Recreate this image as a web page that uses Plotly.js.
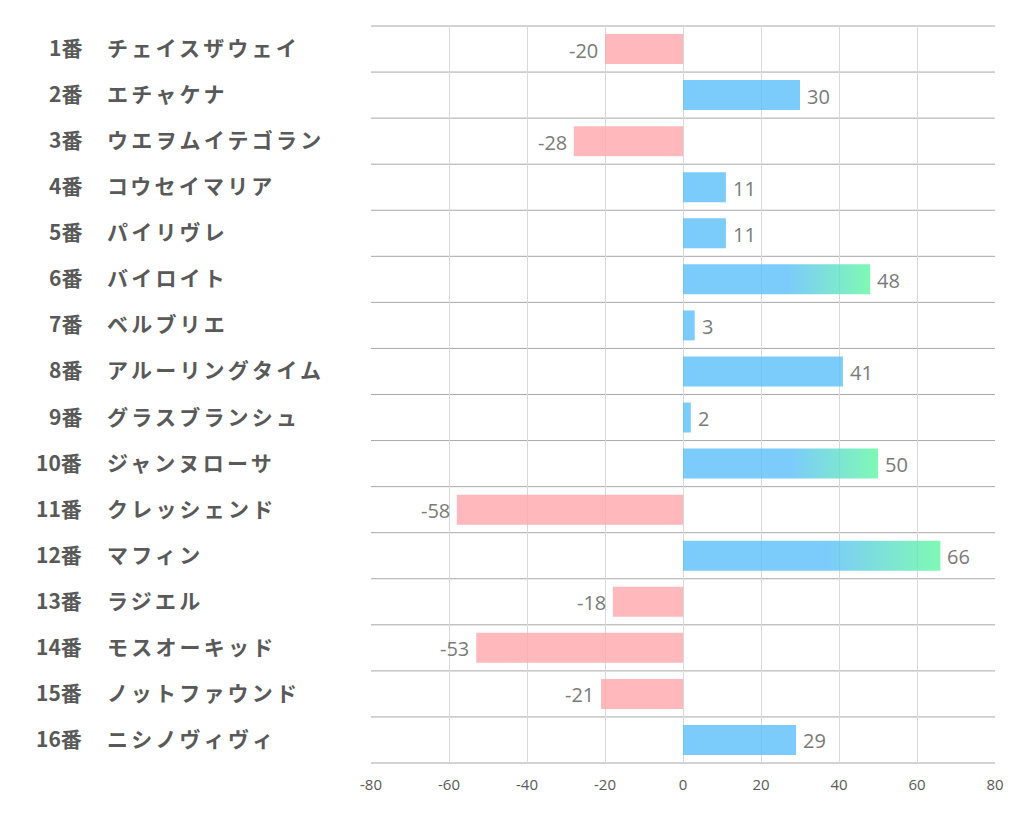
<!DOCTYPE html>
<html>
<head>
<meta charset="utf-8">
<script src="https://cdn.plot.ly/plotly-3.0.1.min.js"></script>
<style>
  html, body { margin: 0; padding: 0; background: #fff; }
  #chart { width: 1022px; height: 834px; }
  .name-label { letter-spacing: 3.2px; }
</style>
</head>
<body>
<div id="chart"></div>
<script>
// ---- data ----
const horseNumbers = ['1番','2番','3番','4番','5番','6番','7番','8番','9番','10番','11番','12番','13番','14番','15番','16番'];
const horseNames = ['チェイスザウェイ','エチャケナ','ウエヲムイテゴラン','コウセイマリア','パイリヴレ','バイロイト','ベルブリエ','アルーリングタイム','グラスブランシュ','ジャンヌローサ','クレッシェンド','マフィン','ラジエル','モスオーキッド','ノットファウンド','ニシノヴィヴィ'];
const scores = [-20, 30, -28, 11, 11, 48, 3, 41, 2, 50, -58, 66, -18, -53, -21, 29];
const xTickVals = [-80, -60, -40, -20, 0, 20, 40, 60, 80];

// ---- styles ----
const BLUE = 'rgba(90,190,250,0.8)';
const PINK = 'rgba(255,166,171,0.8)';
const GRAD_FROM = 'rgb(90,190,250)';
const GRAD_TO = 'rgb(95,247,161)';
const top3 = scores.slice().sort((a, b) => b - a).slice(0, 3);
const highlight = scores.map(v => top3.includes(v));
const colors = scores.map(v => v < 0 ? PINK : BLUE);

const trace = {
  type: 'bar',
  orientation: 'h',
  x: scores,
  y: horseNumbers,
  marker: { color: colors, line: { width: 0 } },
  hoverinfo: 'none'
};

const labelFont = { family: 'Noto Sans CJK JP', size: 21, color: '#595959', weight: 'bold' };
const annotations = [];
horseNumbers.forEach((n, i) => {
  annotations.push({
    xref: 'paper', yref: 'y', x: -0.4599, y: n, yshift: 2,
    text: n, showarrow: false, xanchor: 'right', yanchor: 'middle', align: 'right',
    font: labelFont
  });
  annotations.push({
    xref: 'paper', yref: 'y', x: -0.4263, y: n, yshift: 2,
    text: horseNames[i], showarrow: false, xanchor: 'left', yanchor: 'middle', align: 'left',
    font: labelFont
  });
  const v = scores[i];
  annotations.push({
    xref: 'x', yref: 'y', x: v, y: n,
    text: String(v), showarrow: false,
    xanchor: v < 0 ? 'right' : 'left', yanchor: 'middle',
    xshift: v < 0 ? -5 : 5, yshift: -1,
    font: { family: 'Open Sans', size: 20, color: '#7A7A7A' }
  });
});

const shapes = [];
for (let k = 0; k <= horseNumbers.length; k++) {
  shapes.push({
    type: 'line', xref: 'paper', yref: 'paper',
    x0: 0, x1: 1, y0: k / horseNumbers.length, y1: k / horseNumbers.length,
    line: { color: '#A8A8A8', width: 1 }, layer: 'below'
  });
}

const layout = {
  width: 1022, height: 834,
  margin: { l: 371, r: 27, t: 26, b: 71 },
  paper_bgcolor: '#ffffff', plot_bgcolor: '#ffffff',
  showlegend: false,
  bargap: 0.35,
  xaxis: {
    range: [-80, 80], tickvals: xTickVals, ticktext: xTickVals.map(String),
    showgrid: true, gridcolor: '#D9D9D9', gridwidth: 1,
    zeroline: false, showline: false, ticks: '',
    ticklabelstandoff: 11,
    tickfont: { family: 'Open Sans', size: 15, color: '#595959' },
    fixedrange: true
  },
  yaxis: {
    type: 'category', categoryorder: 'array', categoryarray: horseNumbers,
    autorange: 'reversed', showticklabels: false, showgrid: false,
    zeroline: false, showline: false, ticks: '', fixedrange: true
  },
  annotations: annotations,
  shapes: shapes
};

Plotly.newPlot('chart', [trace], layout, { displayModeBar: false, staticPlot: true }).then(gd => {
  // letter spacing for names
  gd.querySelectorAll('.annotation text').forEach(t => {
    if (horseNames.includes(t.textContent)) t.classList.add('name-label');
  });
  // gradient for highlighted bars
  const svg = gd.querySelector('svg.main-svg');
  const defs = svg.querySelector('defs');
  const ns = 'http://www.w3.org/2000/svg';
  const grad = document.createElementNS(ns, 'linearGradient');
  grad.setAttribute('id', 'hlGrad');
  grad.setAttribute('x1', '0'); grad.setAttribute('x2', '1');
  grad.setAttribute('y1', '0'); grad.setAttribute('y2', '0');
  [[0, GRAD_FROM], [0.55, GRAD_FROM], [1, GRAD_TO]].forEach(([o, c]) => {
    const s = document.createElementNS(ns, 'stop');
    s.setAttribute('offset', o);
    s.setAttribute('stop-color', c);
    grad.appendChild(s);
  });
  defs.appendChild(grad);
  const paths = gd.querySelectorAll('.barlayer .trace .point path');
  paths.forEach((p, i) => {
    if (highlight[i]) p.style.fill = 'url(#hlGrad)';
  });
});
</script>
</body>
</html>
